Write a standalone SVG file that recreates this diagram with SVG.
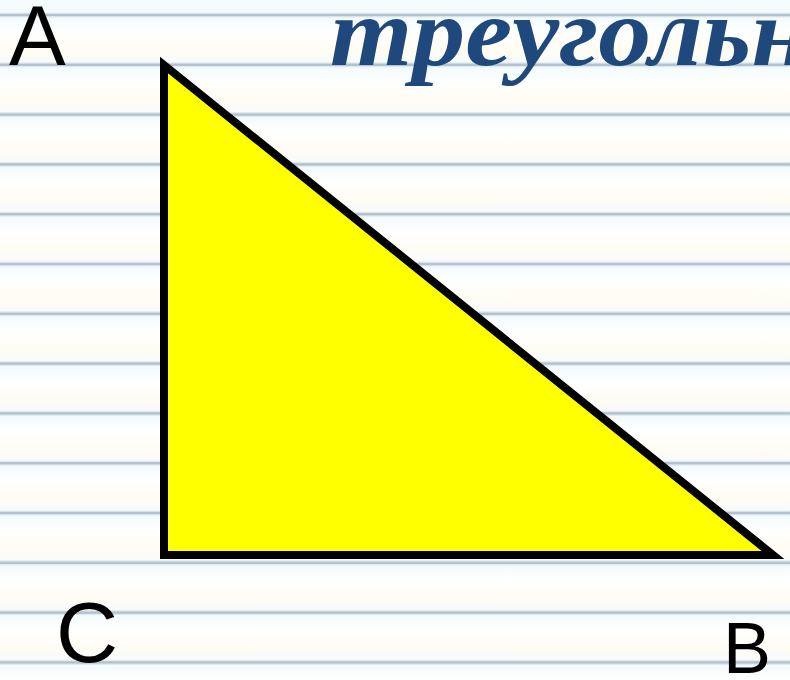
<svg xmlns="http://www.w3.org/2000/svg" width="790" height="680" viewBox="0 0 790 680">
  <defs>
    <linearGradient id="band" x1="0" y1="0" x2="0" y2="1">
      <stop offset="0" stop-color="#f1fafd"/>
      <stop offset="0.35" stop-color="#ffffff"/>
      <stop offset="0.7" stop-color="#fffcf3"/>
      <stop offset="1" stop-color="#f6fbfd"/>
    </linearGradient>
    <g id="rule">
      <rect x="0" y="0" width="790" height="49.8" fill="url(#band)"/>
      <rect x="0" y="-2.5" width="790" height="5" fill="#e2eaef"/>
      <rect x="0" y="-1.2" width="790" height="2.4" fill="#b2c2ce"/>
    </g>
    <style>
      .lbl { font-family: "Liberation Sans", Arial, sans-serif; fill: #000000; }
      .title { font-family: "Liberation Serif", "Times New Roman", serif; font-weight: bold; font-style: italic; fill: #1f497d; }
    </style>
  </defs>
  <g id="background">
    <rect x="0" y="0" width="790" height="680" fill="#ffffff"/>
    <rect x="0" y="0" width="790" height="15" fill="#f3fbfd"/>
    <use href="#rule" y="15"/>
    <use href="#rule" y="64.8"/>
    <use href="#rule" y="114.6"/>
    <use href="#rule" y="164.4"/>
    <use href="#rule" y="214.2"/>
    <use href="#rule" y="264"/>
    <use href="#rule" y="313.8"/>
    <use href="#rule" y="363.6"/>
    <use href="#rule" y="413.4"/>
    <use href="#rule" y="463.2"/>
    <use href="#rule" y="513"/>
    <use href="#rule" y="562.8"/>
    <use href="#rule" y="612.6"/>
    <use href="#rule" y="662.4"/>
  </g>
  <g id="title">
    <text class="title" x="330" y="65" font-size="98" textLength="480" lengthAdjust="spacingAndGlyphs">треугольн</text>
  </g>
  <g id="triangle">
    <polygon points="164,65 164,555 773,555" fill="#ffff00" stroke="#000000" stroke-width="8" stroke-linejoin="miter"/>
  </g>
  <g id="label-A"><text class="lbl" x="9" y="65" font-size="85">A</text></g>
  <g id="label-C"><text class="lbl" x="56" y="662" font-size="86">C</text></g>
  <g id="label-B"><text class="lbl" x="723" y="673" font-size="72">B</text></g>
  <g id="connectors"/>
</svg>
